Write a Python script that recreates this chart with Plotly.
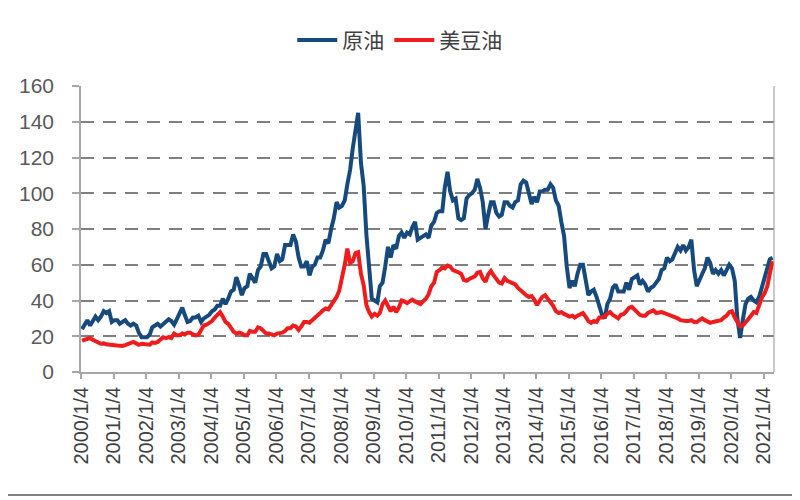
import plotly.graph_objects as go
import pandas as pd

# Monthly values (Jan 2000 – Apr 2021)
crude_oil = [
    24, 27, 29, 26, 29, 31, 29, 31, 34, 33, 34, 28,          # 2000
    29, 29, 27, 28, 29, 27, 26, 27, 26, 22, 19.5, 19.5,      # 2001
    19.5, 21, 25, 26, 27, 25.5, 27, 28.5, 29.5, 28.5, 26.5, 29.5,  # 2002
    33, 36, 32, 28, 28.5, 30.5, 30.5, 31.5, 28, 30, 31, 32,  # 2003
    34, 35, 37, 37, 41, 38, 41, 45, 46, 53, 48.5, 43,        # 2004
    47, 48, 55, 52, 50, 57, 59, 66, 66, 62, 58, 59,          # 2005
    66, 62, 63, 71, 71, 71, 77, 73, 64, 59, 59, 62,          # 2006
    54, 59, 60, 64, 64, 68, 74, 72, 80, 86, 95, 92,          # 2007
    93, 96, 105, 113, 125, 134, 145, 117, 104, 77, 57, 41,   # 2008
    40, 39, 48, 50, 59, 70, 64, 71, 69, 76, 78, 75,          # 2009
    78, 77, 81, 84, 74, 75, 76, 77, 75, 82, 84, 89,          # 2010
    90, 90, 103, 112, 101, 96, 97, 86, 85, 86, 97, 99,       # 2011
    100, 102, 108, 103, 95, 80, 88, 95, 95, 89, 87, 88,      # 2012
    95, 95, 93, 92, 95, 96, 105, 107, 106, 100, 94, 98,      # 2013
    95, 101, 101, 102, 102, 105, 103, 96, 93, 84, 76, 59,    # 2014
    47, 51, 48, 55, 60, 60, 51, 43, 45, 46, 42, 37,          # 2015
    32, 30, 38, 41, 47, 49, 45, 45, 45, 50, 46, 52,          # 2016
    53, 54, 49, 51, 49, 45, 47, 48, 50, 52, 57, 58,          # 2017
    64, 62, 63, 66, 70, 68, 71, 68, 70, 74, 57, 48,          # 2018
    51, 55, 58, 64, 61, 55, 57, 55, 57, 54, 57, 60,          # 2019
    58, 51, 30, 19, 29, 38, 41, 42, 40, 39, 42, 47,          # 2020
    52, 59, 63, 64,                                          # 2021
]

soybean_oil = [
    17.5, 18, 18.5, 19, 18, 17, 16.5, 15.8, 16, 15.5, 15.5, 15,    # 2000
    15, 14.8, 14.5, 14.6, 15, 15.5, 16.5, 16.8, 16, 15.2, 15.8, 15.5,  # 2001
    15.5, 15.3, 16.5, 16.2, 16.8, 18.5, 19.5, 19, 19.5, 19, 21.5, 20.5,  # 2002
    20.5, 21.5, 21, 22, 22, 21, 20.5, 20.8, 23.5, 26, 26.5, 27.5,  # 2003
    28.5, 30.5, 32, 33.5, 31, 28, 27, 25, 22.5, 21.5, 22, 21.5,    # 2004
    20.5, 20.5, 23, 22.5, 22.5, 25, 24.5, 23, 21.5, 21.5, 21, 20.5,  # 2005
    21.5, 21.5, 22, 23, 24.5, 24.5, 26, 25.5, 23.5, 25.5, 28, 28,  # 2006
    27.5, 29, 30.5, 31.5, 33, 34.5, 35.5, 35, 37.5, 39.5, 42, 45.5,  # 2007
    52, 60, 69, 61, 62, 66.5, 67, 55, 48.5, 37.5, 33.5, 31,        # 2008
    32.5, 31.5, 33, 38, 40, 37, 34, 36.5, 33.5, 36, 40, 39.5,      # 2009
    38.5, 39.5, 40.5, 39.5, 38.5, 38, 39.5, 41, 43.5, 48, 50, 56,  # 2010
    57, 58.5, 58, 59.5, 59, 57, 56.5, 56, 55, 51.5, 51, 52,        # 2011
    52.5, 53.5, 55.5, 56, 52.5, 50.5, 54.5, 56.5, 54, 51.5, 50, 49.5,  # 2012
    52.5, 51, 50.5, 49.5, 49, 47, 45.5, 44, 43, 42, 42.5, 40.5,    # 2013
    37.5, 40, 42, 43, 40.5, 39, 37, 34, 33, 33.5, 32.5, 32,        # 2014
    31, 31.5, 30.5, 31.5, 32, 33, 31, 28.5, 27.5, 28.5, 28, 30.5,  # 2015
    30.5, 31, 32.5, 33.5, 32, 31, 30, 32, 32.5, 34, 36, 36.5,      # 2016
    35, 33.5, 32, 31.5, 31.5, 33, 34, 34.5, 33, 33.5, 33.5, 33,    # 2017
    32.5, 32, 31.5, 30.5, 30, 29, 28.5, 28.5, 28.5, 29, 28, 28,    # 2018
    29, 30, 29, 28, 27.5, 28, 28.5, 29, 29, 30.5, 31.5, 33.5,      # 2019
    34, 30.5, 27.5, 25.5, 26, 27.5, 29.5, 31.5, 33.5, 33, 37.5, 41.5,  # 2020
    44, 48, 55, 62,                                                # 2021
]

series_names = ["原油", "美豆油"]
series_colors = ["#174a7c", "#ee1c1c"]

dates = pd.date_range("2000-01-01", periods=len(crude_oil), freq="MS") + pd.Timedelta(days=14)

tick_years = list(range(2000, 2022))
tick_vals = [f"{y}-01-04" for y in tick_years]
tick_text = [f"{y}/1/4" for y in tick_years]
y_ticks = [0, 20, 40, 60, 80, 100, 120, 140, 160]

fig = go.Figure()
for name, vals, col in zip(series_names, [crude_oil, soybean_oil], series_colors):
    fig.add_trace(go.Scatter(x=dates, y=vals, mode="lines", name=name,
                             line=dict(color=col, width=4)))

font_family = "Liberation Sans, Arial, Noto Sans CJK SC, sans-serif"

fig.update_layout(
    width=792, height=492,
    margin=dict(l=73, r=26, t=73, b=128),
    paper_bgcolor="white", plot_bgcolor="white",
    font=dict(family=font_family, color="#595959"),
    showlegend=True,
    legend=dict(orientation="h", x=0.46, xanchor="center", y=1.16, yanchor="middle",
                font=dict(size=21, color="#404040", family="Noto Sans CJK SC, sans-serif"),
                itemwidth=40, bgcolor="rgba(0,0,0,0)"),
    xaxis=dict(
        type="date",
        range=["2000-01-04", "2021-05-01"],
        tickmode="array", tickvals=tick_vals, ticktext=tick_text,
        tickangle=-90, tickfont=dict(size=20, color="#404040"),
        showgrid=False, zeroline=False,
        showline=True, linecolor="#a6a6a6", linewidth=1.5,
        ticks="outside", ticklen=5, tickcolor="#a6a6a6", tickwidth=1.5,
    ),
    yaxis=dict(
        range=[0, 160], tickvals=y_ticks,
        tickfont=dict(size=21, color="#595959"),
        showgrid=True, gridcolor="#7f7f7f", gridwidth=1.8, griddash="13px,9px",
        zeroline=False,
        showline=True, linecolor="#a6a6a6", linewidth=1.5,
        ticks="outside", ticklen=7, tickcolor="#a6a6a6", tickwidth=1.5,
        ticklabelstandoff=14,
    ),
    shapes=[
        dict(type="line", xref="paper", yref="paper", x0=1, x1=1, y0=0, y1=1,
             line=dict(color="#a6a6a6", width=1.2)),
        dict(type="line", xref="paper", yref="paper", x0=1.031, x1=1.031, y0=-0.43, y1=1.3,
             line=dict(color="#595959", width=1.5)),
        dict(type="line", xref="paper", yref="paper", x0=-0.3, x1=1.031, y0=-0.43, y1=-0.43,
             line=dict(color="#595959", width=1.5)),
    ],
)

fig.write_html("out.html")
